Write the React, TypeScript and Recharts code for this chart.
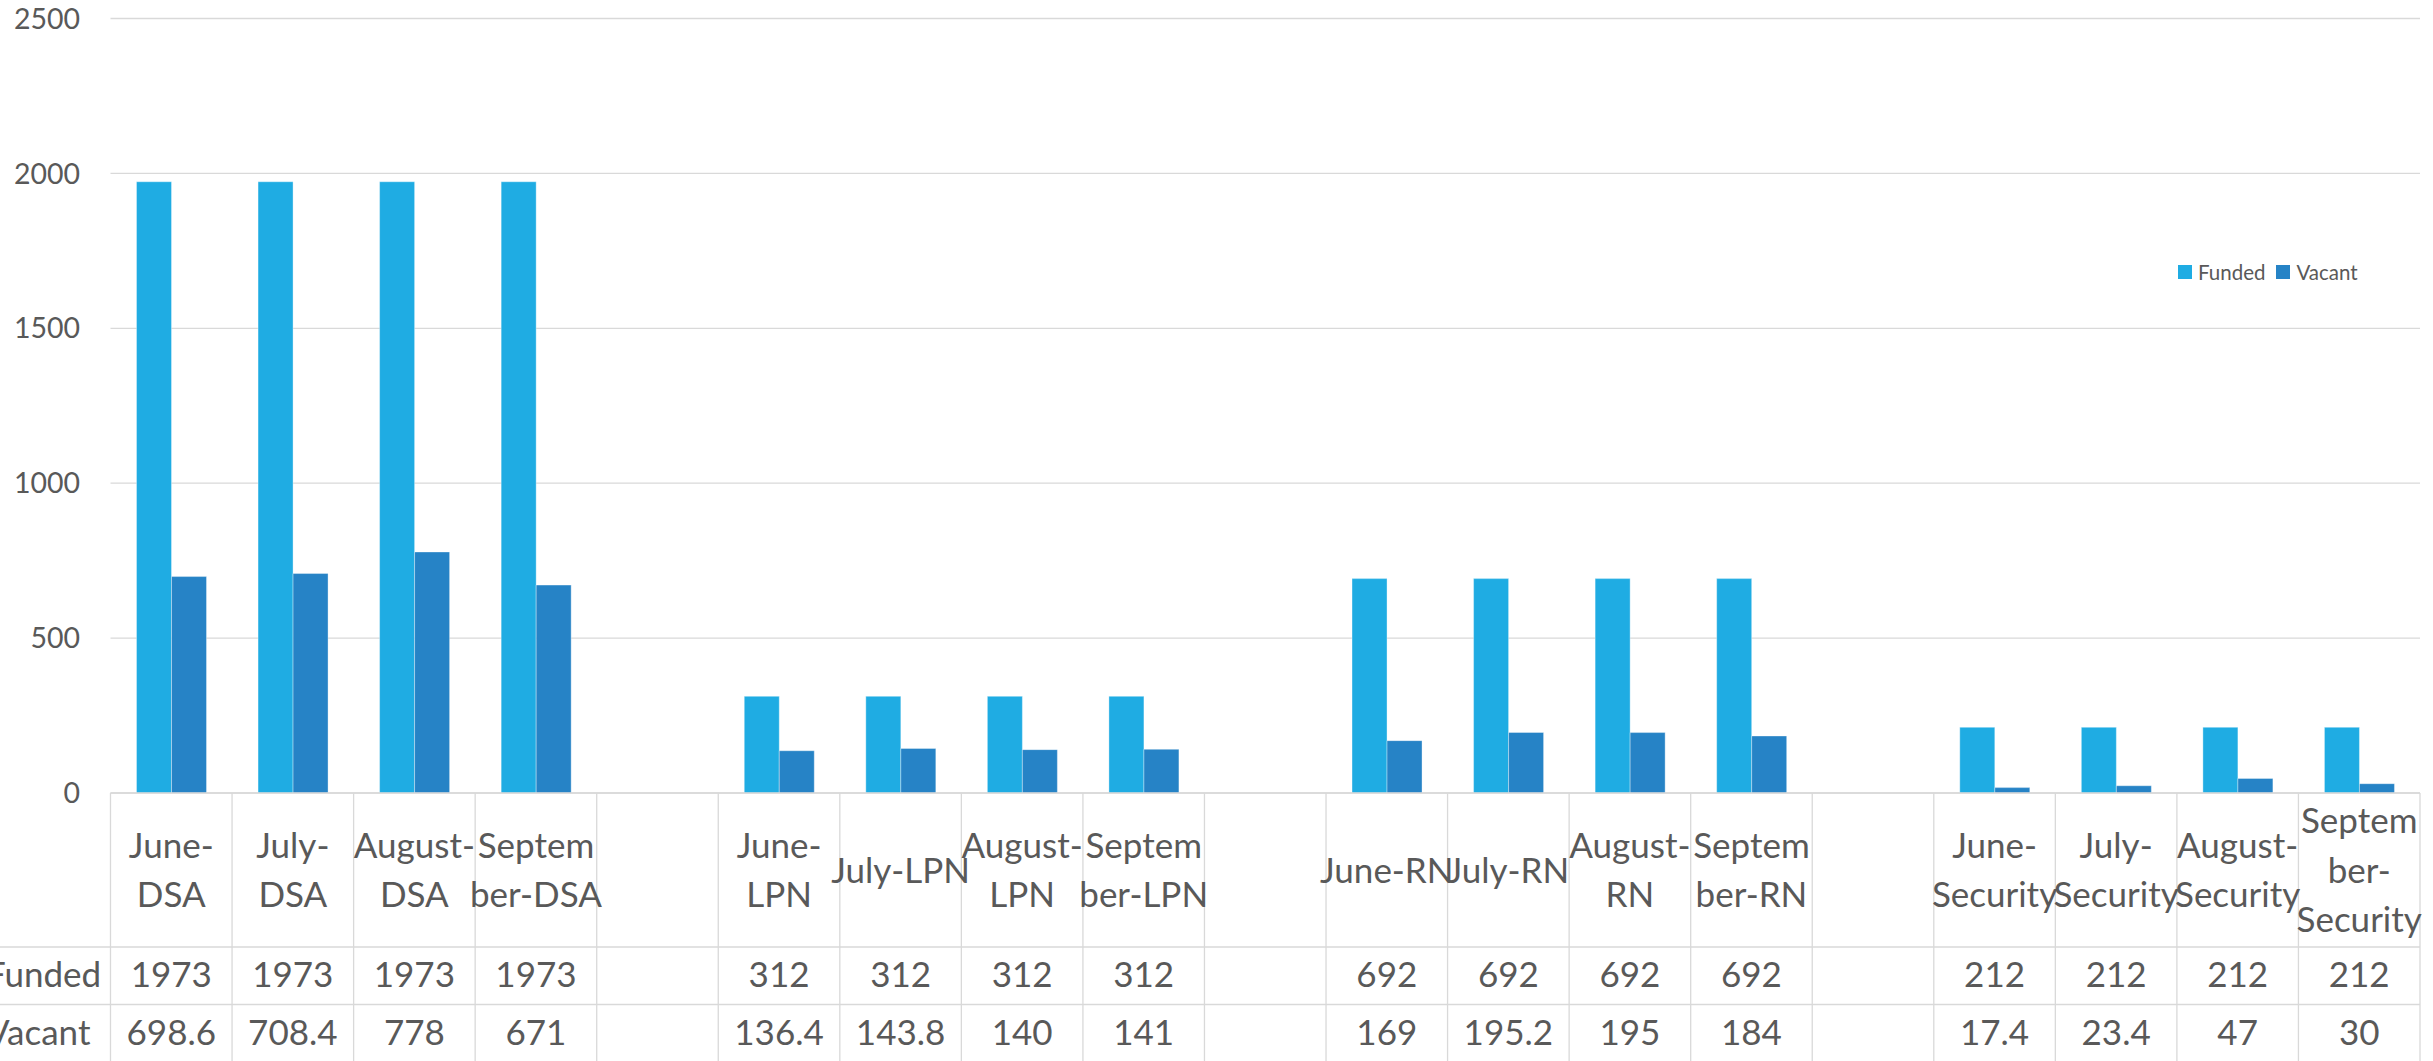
import React from 'react';
import { BarChart, Bar, XAxis, YAxis, CartesianGrid, Legend } from 'recharts';

// ---------- data ----------
const categories = [
  'June-DSA', 'July-DSA', 'August-DSA', 'September-DSA', '',
  'June-LPN', 'July-LPN', 'August-LPN', 'September-LPN', '',
  'June-RN', 'July-RN', 'August-RN', 'September-RN', '',
  'June-Security', 'July-Security', 'August-Security', 'September-Security',
];

// wrapped tick labels, as they appear in the table header
const labelLines: string[][] = [
  ['June-', 'DSA'], ['July-', 'DSA'], ['August-', 'DSA'], ['Septem', 'ber-DSA'], [],
  ['June-', 'LPN'], ['July-LPN'], ['August-', 'LPN'], ['Septem', 'ber-LPN'], [],
  ['June-RN'], ['July-RN'], ['August-', 'RN'], ['Septem', 'ber-RN'], [],
  ['June-', 'Security'], ['July-', 'Security'], ['August-', 'Security'], ['Septem', 'ber-', 'Security'],
];

const funded: (number | null)[] = [
  1973, 1973, 1973, 1973, null,
  312, 312, 312, 312, null,
  692, 692, 692, 692, null,
  212, 212, 212, 212,
];

const vacant: (number | null)[] = [
  698.6, 708.4, 778, 671, null,
  136.4, 143.8, 140, 141, null,
  169, 195.2, 195, 184, null,
  17.4, 23.4, 47, 30,
];

const yTicks = [0, 500, 1000, 1500, 2000, 2500];
const seriesNames = ['Funded', 'Vacant'];
const seriesColors = ['#1FACE3', '#2683C6'];

const data = categories.map((name, i) => ({
  name,
  Funded: funded[i],
  Vacant: vacant[i],
}));

// ---------- layout ----------
const W = 2433;
const H = 1061;
const PLOT_LEFT = 110.5;
const PLOT_RIGHT = 2420;
const AXIS_Y = 793;
const PLOT_TOP = 18.5;
const BAND = (PLOT_RIGHT - PLOT_LEFT) / categories.length;
const FONT = 'Lato, "Open Sans", "DejaVu Sans", sans-serif';
const TEXT = '#595959';
const LINE = '#d9d9d9';
const TABLE_FONT = 35;

function TableTick(props: any) {
  const { x, y, payload } = props;
  const i: number = payload.index;
  const right = x + BAND / 2;
  const left = x - BAND / 2;
  const lines = labelLines[i] || [];
  const f = funded[i];
  const v = vacant[i];
  const row1 = y + 154;
  const row2 = y + 211.5;
  const fundedY = y + 181.5;
  const vacantY = y + 239;
  const txt = {
    fontFamily: FONT,
    fontSize: TABLE_FONT,
    fill: TEXT,
  };
  return (
    <g>
      {i === 0 && (
        <g>
          <line x1={0} x2={PLOT_RIGHT} y1={row1} y2={row1} stroke={LINE} strokeWidth={1.3} />
          <line x1={0} x2={PLOT_RIGHT} y1={row2} y2={row2} stroke={LINE} strokeWidth={1.3} />
          <line x1={left} x2={left} y1={y} y2={H} stroke={LINE} strokeWidth={1.3} />
          <text x={-14} y={fundedY} dy="0.358em" textAnchor="start" {...txt}>{seriesNames[0]}</text>
          <text x={-14} y={vacantY} dy="0.358em" textAnchor="start" {...txt}>{seriesNames[1]}</text>
        </g>
      )}
      <line x1={right} x2={right} y1={y} y2={H} stroke={LINE} strokeWidth={1.3} />
      {lines.map((t, k) => (
        <text
          key={k}
          x={x}
          y={y + 77 + (k - (lines.length - 1) / 2) * 49.3}
          dy="0.358em"
          textAnchor="middle"
          {...txt}
        >
          {t}
        </text>
      ))}
      {f != null && (
        <text x={x} y={fundedY} dy="0.358em" textAnchor="middle" {...txt}>{f}</text>
      )}
      {v != null && (
        <text x={x} y={vacantY} dy="0.358em" textAnchor="middle" {...txt}>{v}</text>
      )}
    </g>
  );
}

function LegendContent() {
  return (
    <div style={{ display: 'flex', alignItems: 'center', fontFamily: FONT, fontSize: 20.5, color: TEXT, lineHeight: '24px', whiteSpace: 'nowrap' }}>
      {seriesNames.map((n, k) => (
        <div key={n} style={{ display: 'flex', alignItems: 'center', marginRight: k === 0 ? 11 : 0 }}>
          <span style={{ display: 'inline-block', width: 14, height: 14, background: seriesColors[k], marginRight: 6 }} />
          <span>{n}</span>
        </div>
      ))}
    </div>
  );
}

export default function App() {
  return (
    <div style={{ position: 'absolute', left: 0, top: 0, width: W, height: H, background: '#fff' }}>
      <BarChart
        width={W}
        height={H}
        data={data}
        margin={{ top: PLOT_TOP, right: W - PLOT_RIGHT, bottom: 0, left: 0 }}
        barGap={0}
      >
        <CartesianGrid vertical={false} stroke={LINE} strokeWidth={1.3} />
        <XAxis
          dataKey="name"
          interval={0}
          height={H - AXIS_Y}
          tickLine={false}
          tickSize={0}
          tickMargin={0}
          axisLine={{ stroke: LINE, strokeWidth: 1.3 }}
          tick={<TableTick />}
        />
        <YAxis
          width={PLOT_LEFT}
          domain={[0, 2500]}
          ticks={yTicks}
          axisLine={false}
          tickLine={false}
          tickSize={0}
          tickMargin={30.5}
          tick={{ fill: TEXT, fontSize: 28.5, fontFamily: FONT }}
        />
        <Legend
          layout="horizontal"
          verticalAlign="middle"
          align="center"
          wrapperStyle={{ left: 2178, top: 260, width: 'auto', height: 'auto' }}
          content={() => <LegendContent />}
        />
        <Bar
          dataKey="Funded"
          fill={seriesColors[0]}
          barSize={35}
          stroke="rgba(255,255,255,0.35)"
          strokeWidth={1}
          isAnimationActive={false}
        />
        <Bar
          dataKey="Vacant"
          fill={seriesColors[1]}
          barSize={35}
          stroke="rgba(255,255,255,0.35)"
          strokeWidth={1}
          isAnimationActive={false}
        />
      </BarChart>
    </div>
  );
}
